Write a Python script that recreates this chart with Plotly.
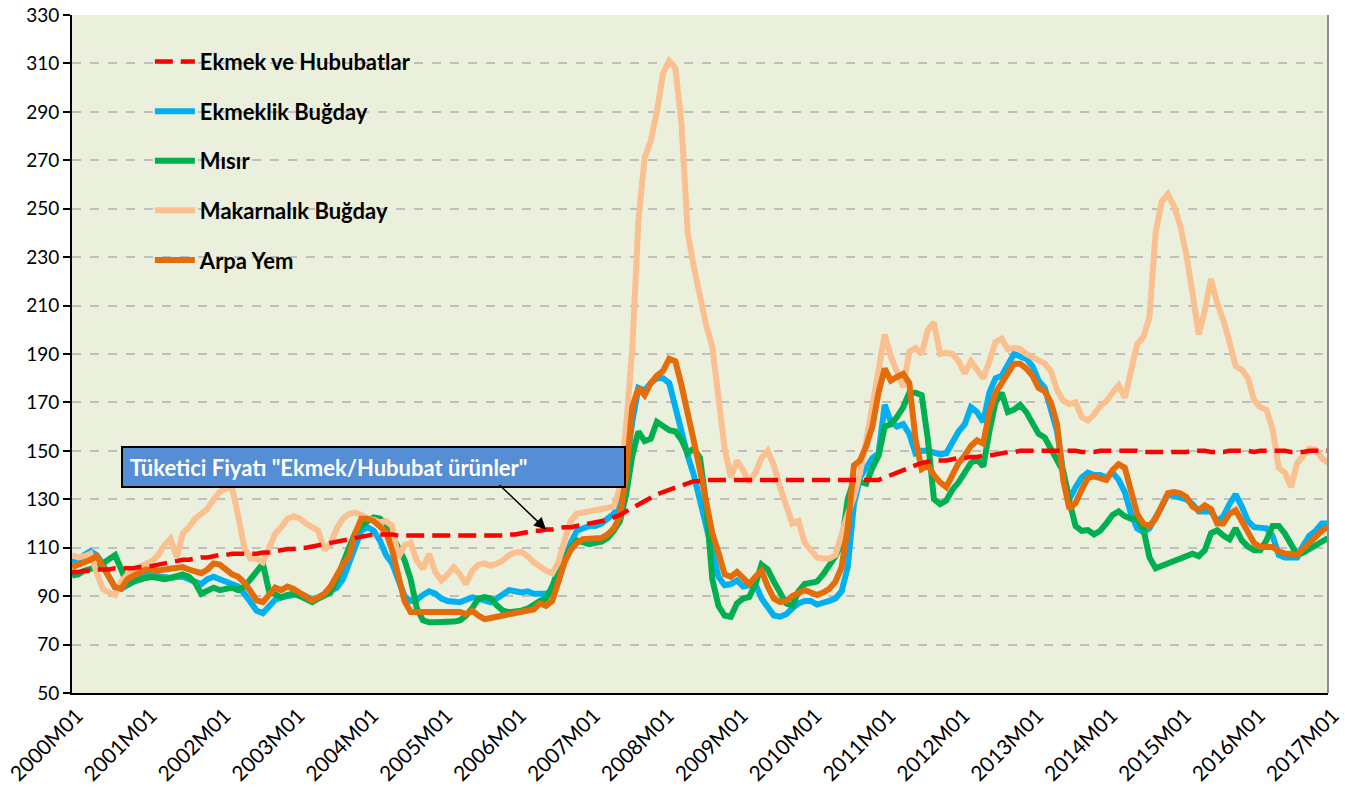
import plotly.graph_objects as go

# Monthly labels 2000M01 .. 2017M01
months = [f"{y}M{m:02d}" for y in range(2000, 2017) for m in range(1, 13)] + ["2017M01"]
tick_labels = [f"{y}M01" for y in range(2000, 2018)]

ekmek_hububat = [
    100, 100, 100.5, 100.5, 101, 101, 101, 101.5, 101.5, 101.5, 101.5, 102,
    102, 102.5, 103, 103.5, 104, 104.5, 105, 105, 105.5, 106, 106, 106.5,
    107, 107, 107.5, 107.5, 107.5, 107.5, 107.5, 108, 108, 108.5, 109, 109.5,
    109.5, 110, 110, 110.5, 111, 111.5, 112, 112.5, 113, 113.5, 114, 114.5,
    115, 115.5, 115.5, 115.5, 115.5, 115, 115, 115, 115, 115, 115, 115,
    115, 115, 115, 115, 115, 115, 115, 115, 115, 115, 115, 115.5,
    115.5, 116, 116.5, 117, 117, 117.5, 117.5, 118, 118.5, 118.5, 119, 119.5,
    120, 120.5, 121, 121.5, 122.5, 123.5, 125, 126.5, 128, 129.5, 131, 132,
    133, 134, 135, 136, 137, 137.5, 137.5, 138, 138, 138, 138, 138,
    138, 138, 138, 138, 138, 138, 138, 138, 138, 138, 138, 138,
    138, 138, 138, 138, 138, 138, 138, 138, 138, 138, 138, 138,
    139, 140, 141, 142, 143, 144, 145, 145.5, 146, 146, 146, 146.5,
    147, 147, 147.5, 147.5, 148, 148, 148.5, 149, 149.5, 149.5, 150, 150,
    150, 150, 150, 150, 150, 150, 150, 150, 149.5, 149.5, 149.5, 150,
    150, 150, 150, 150, 150, 150, 149.5, 149.5, 149.5, 149.5, 149.5, 149.5,
    149.5, 149.5, 150, 150, 150, 149.5, 149.5, 149.5, 150, 150, 150, 150,
    149.5, 150, 150, 150, 150, 150, 149.5, 149.5, 149.5, 150, 150, 150,
    150,
]

ekmeklik_bugday = [
    104, 105, 107, 108.5, 107, 103.4, 98, 93.5, 93, 94.5, 96.5, 98,
    99, 98.5, 98, 98, 97.5, 98, 98, 97, 96, 95, 97, 98,
    97, 96, 95, 94, 91, 87, 84, 83, 86, 88.5, 89.5, 90,
    91, 91, 90, 88.5, 89.5, 91, 92, 93.5, 97, 104, 111, 117,
    118.5, 117, 113, 107, 103.5, 96, 90, 88, 88.5, 90.5, 92, 91,
    89, 88, 88, 87.5, 88.5, 89.5, 89, 88, 87.5, 89, 90.5, 92.5,
    92, 91.5, 92, 91, 91, 91, 92, 96, 105, 112, 117, 118,
    119, 119, 120, 122, 124, 129, 143, 162, 176, 175, 178, 180,
    180, 178, 168, 157, 148, 140, 130, 120, 108, 98, 94.5, 95,
    96.5, 94, 94.5, 95, 89, 85, 82, 81.5, 82.5, 85, 87, 88,
    88, 86.5, 87, 88, 89, 92, 102, 128, 139, 143, 147, 149,
    169, 162, 160, 161, 157, 149, 150, 150, 149, 148.5, 149, 154,
    158, 161, 168, 166, 162, 174, 180, 181, 185, 190, 189, 188,
    185, 179, 176, 168, 158, 141, 130, 135, 139, 141, 140, 140,
    139, 141, 138, 133, 124, 118, 116.5, 118, 122, 127, 132, 131.5,
    131, 130, 128, 125, 125, 125, 121, 123, 128, 132, 127, 121,
    118.5, 118, 118, 115, 107, 106, 106, 106, 111, 115, 117, 120,
    120,
]

misir = [
    98.5, 99, 100.5, 101, 102, 103.5, 105, 107, 101, 95, 96, 97,
    97.5, 98, 97.5, 97, 97.5, 98.5, 99, 98, 95.5, 91, 92.5, 93.5,
    92.5, 93, 93.5, 92.5, 94, 97, 100.6, 103.4, 92, 90.5, 89.5, 90.5,
    91, 90, 89, 87.5, 89, 90, 91.5, 97, 104, 110, 116, 119,
    121, 122.5, 122, 120, 115, 110, 105, 97, 85, 80, 79.2, 79.2,
    79.2, 79.2, 79.5, 80, 82, 85, 89, 89.6, 89, 86.2, 84, 83.4,
    83.4, 84, 84.8, 86.5, 88, 89, 94, 101, 106, 110, 113, 112,
    111.5, 112, 112.5, 114, 117, 121, 132, 148, 158, 154, 155, 162,
    160.5, 158.5, 158, 154.5, 149, 151, 147, 128, 97, 86, 82, 81.5,
    87, 89, 89.7, 95, 103, 101, 96, 91, 87, 86, 92, 95,
    95.5, 96, 99, 103, 106.5, 112, 130, 138, 137, 136.5, 143, 148,
    160, 161, 164, 168, 174, 174, 173, 155, 130, 128, 129.5, 134,
    137, 141, 145, 146.5, 143.5, 158, 170, 174, 166, 167, 169, 166,
    162, 157, 155.5, 151, 147, 141.5, 129, 119, 117, 117.3, 115.5, 117,
    120, 123.5, 125, 123, 122, 122, 118, 106, 101.5, 102.5, 104, 105,
    105.5, 106.5, 107.5, 106.5, 109, 116, 117.2, 115, 113.5, 118, 113, 110.5,
    109, 109, 113, 119, 119, 115.8, 111, 107, 108, 109.6, 111.5, 113,
    114,
]

makarnalik_bugday = [
    106.8, 106, 106.5, 107.5, 100, 93, 91.5, 90.5, 96, 99, 101, 102,
    103.5, 104.5, 107, 111, 113.7, 106, 116, 118.5, 122, 124, 126, 130,
    133, 134.5, 135, 123, 110, 105.4, 105.4, 104, 110.3, 115.8, 118.5, 122,
    123, 122, 120, 118.5, 117, 109, 112, 118, 122, 124, 124.5, 123.5,
    122, 121.5, 120.5, 121, 119, 106, 111, 112, 104.7, 101.3, 107.5, 100,
    96.5, 99, 102, 99, 95, 100.5, 103, 103.5, 102.5, 103.5, 104.7, 107,
    108, 108.2, 106.5, 104, 102, 100.5, 99.5, 104, 113, 121, 124, 124.7,
    125, 125.5, 126, 126.3, 127, 135, 160, 192, 245, 271, 278, 290,
    306, 311, 308, 285, 240, 226, 213, 202, 193, 170, 151, 139,
    146, 142, 137, 141, 147, 150, 144, 135, 128, 120, 121, 112,
    109, 106, 105.5, 105.5, 107, 116, 124, 131, 141, 154, 168, 185,
    198, 189, 182, 176.3, 191, 192.5, 190, 200, 203, 190, 190.5, 190,
    187, 182, 187, 183, 180, 187, 195, 196.3, 192, 192.5, 192, 190,
    188.5, 187, 186, 183, 175, 170.7, 169.3, 170, 164, 162.5, 165, 168.5,
    170.5, 174, 177, 172, 184, 194, 197, 205, 240, 253, 256, 251,
    243, 231, 215, 198, 208, 221, 211, 204, 195, 185, 183.5, 180,
    171, 168, 167, 159, 143, 141, 135, 145, 148, 151, 150.5, 147,
    145,
]

arpa_yem = [
    102, 103, 103.5, 105, 106.5, 102, 97, 93.7, 93, 97, 98.5, 100,
    101, 101, 100.5, 101, 101.5, 102, 102, 101, 100, 99.5, 101, 103.5,
    103, 101, 99, 98, 95.5, 92, 88.2, 87.5, 91, 93.5, 92.5, 94,
    93, 91.6, 90, 88.2, 89.5, 91, 94, 99, 103, 106.5, 116, 122,
    122, 121, 119, 116.5, 109, 99, 88, 83.5, 83.5, 84, 84, 83.5,
    83.5, 84, 84, 83.5, 82.5, 84, 82, 80.5, 81, 81.5, 82, 82.5,
    83, 83.5, 84, 84.5, 87, 86, 88, 96, 104, 109, 112, 113.5,
    113.5, 113.5, 114, 115.5, 118, 123, 140, 168, 176, 173, 178, 181,
    183, 188, 187, 177, 164, 154, 142, 130, 116, 108, 99, 98,
    100, 97.5, 95, 98, 100.5, 94, 89, 87.5, 88, 90, 91.5, 92.5,
    91.5, 90.5, 91.5, 93, 96, 102, 118, 144, 146, 152, 160, 174,
    184, 179, 180.5, 181.8, 178, 155, 142.5, 144, 140, 137, 135, 140,
    145, 148, 152, 154.3, 153, 166, 174, 178, 182, 186, 186, 184,
    181, 176, 174.5, 170, 161, 138, 126, 128.5, 134, 138.8, 139.5, 139,
    138, 142, 144.5, 143, 134, 124, 120, 119, 122, 128, 132.5, 133,
    132.5, 131, 127, 125.5, 127.5, 126, 120, 120, 124, 125.5, 121, 116,
    112, 110.3, 110.3, 110.3, 108.5, 107.6, 107.5, 107, 109.5, 112, 114.5, 117,
    118.5,
]

series = [
    ("Ekmeklik Buğday", ekmeklik_bugday, "#00B0F0", 2),
    ("Mısır", misir, "#00B050", 3),
    ("Makarnalık Buğday", makarnalik_bugday, "#FAC090", 4),
    ("Arpa Yem", arpa_yem, "#E46C0A", 5),
]

fig = go.Figure()
for name, vals, color, rank in series:
    fig.add_trace(go.Scatter(
        x=months, y=vals, mode="lines", name=name,
        line=dict(color=color, width=6),
        legendgroup=name, legendrank=rank,
    ))
fig.add_trace(go.Scatter(
    x=months, y=ekmek_hububat, mode="lines", name="Ekmek ve Hububatlar",
    line=dict(color="#FF0000", width=4.5, dash="18px,8px"),
    legendgroup="Ekmek ve Hububatlar", legendrank=1,
))

font_family = "Lato, 'Open Sans', sans-serif"

fig.update_layout(
    width=1345, height=798,
    margin=dict(l=72, r=17, t=15, b=105),
    paper_bgcolor="white",
    plot_bgcolor="#EBF0DD",
    font=dict(family=font_family, color="black", size=17),
    showlegend=True,
    legend=dict(
        x=0.062, y=0.962, xanchor="left", yanchor="top",
        bgcolor="rgba(0,0,0,0)",
        font=dict(family=font_family, size=22, color="black", weight="bold"),
        tracegroupgap=18,
        itemwidth=40,
    ),
    xaxis=dict(
        type="category",
        range=[0, len(months) - 1],
        tickmode="array",
        tickvals=tick_labels,
        ticktext=tick_labels,
        tickangle=-45,
        tickfont=dict(size=21, family=font_family),
        ticklabelshift=5,
        showgrid=False,
        showline=True, linecolor="black", linewidth=2,
        ticks="", zeroline=False,
        automargin=False,
    ),
    yaxis=dict(
        range=[50, 330], dtick=20, tick0=50,
        tickfont=dict(size=19, family=font_family),
        showgrid=True, gridcolor="#BFBFBF", gridwidth=1.5, griddash="dash",
        showline=True, linecolor="black", linewidth=2,
        ticks="outside", ticklen=7, tickcolor="black", tickwidth=1.5,
        zeroline=False,
        automargin=False,
    ),
)

# plot area border on the right
fig.add_shape(type="line", xref="paper", yref="paper", x0=1, x1=1, y0=0, y1=1,
              line=dict(color="#8C8C8C", width=2), layer="above")

# annotation box
fig.add_annotation(
    xref="paper", yref="paper", x=0.240, y=0.3333,
    xanchor="center", yanchor="middle",
    text="&nbsp;Tüketici Fiyatı \"Ekmek/Hububat ürünler\"",
    showarrow=False, align="left", width=497, height=34,
    font=dict(family=font_family, size=22, color="white", weight="bold"),
    bgcolor="#558ED5", bordercolor="black", borderwidth=2, borderpad=2,
)
# arrow pointing to the bread & cereals series
fig.add_annotation(
    x=months[77], y=ekmek_hububat[77], xref="x", yref="y",
    text="", font=dict(size=1), showarrow=True, ax=-48, ay=-46,
    arrowhead=2, arrowsize=1.6, arrowwidth=1.5, arrowcolor="black",
)

fig.write_html(
    "out.html",
    config={"displayModeBar": False},
    post_script="document.body.style.margin='0';document.body.style.padding='0';",
)
